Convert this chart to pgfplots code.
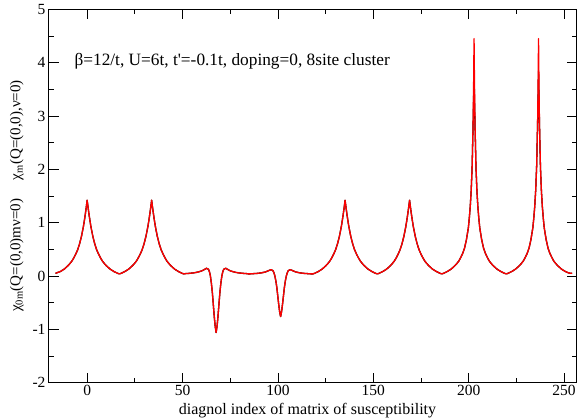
\documentclass[border=0pt]{standalone}
\usepackage{fontspec}
\setmainfont{Liberation Serif}
\usepackage{pgfplots}
\usepackage{pgfplotstable}
\pgfplotsset{compat=1.18}
\pgfplotstableread{
x b r
-16.6 0.05 0.05
-14 0.085 0.085
-12 0.13 0.13
-10 0.195 0.195
-9 0.235 0.235
-8 0.28 0.28
-7 0.34 0.34
-6 0.41 0.41
-5 0.49 0.49
-4 0.6 0.6
-3 0.74 0.74
-2 0.92 0.92
-1.5 1.03 1.03
-1 1.15 1.15
-0.5 1.28 1.28
0 1.42 1.42
0.5 1.28 1.28
1 1.15 1.15
1.5 1.03 1.03
2 0.92 0.92
3 0.74 0.74
4 0.6 0.6
5 0.49 0.49
6 0.41 0.41
7 0.34 0.34
8 0.28 0.28
9 0.235 0.235
10 0.195 0.195
12 0.13 0.13
14 0.085 0.085
16 0.05 0.05
16.9 0.04 0.04
17.8 0.05 0.05
19.8 0.085 0.085
21.8 0.13 0.13
23.8 0.195 0.195
24.8 0.235 0.235
25.8 0.28 0.28
26.8 0.34 0.34
27.8 0.41 0.41
28.8 0.49 0.49
29.8 0.6 0.6
30.8 0.74 0.74
31.8 0.92 0.92
32.3 1.03 1.03
32.8 1.15 1.15
33.3 1.28 1.28
33.8 1.42 1.42
34.3 1.28 1.28
34.8 1.15 1.15
35.3 1.03 1.03
35.8 0.92 0.92
36.8 0.74 0.74
37.8 0.6 0.6
38.8 0.49 0.49
39.8 0.41 0.41
40.8 0.34 0.34
41.8 0.28 0.28
42.8 0.235 0.235
43.8 0.195 0.195
45.8 0.13 0.13
47.8 0.085 0.085
49.8 0.05 0.05
50.7 0.04 0.04
51.6 0.045 0.045
53.6 0.05 0.05
55.6 0.058 0.058
57.6 0.07 0.07
59.6 0.09 0.09
60.6 0.105 0.105
61.6 0.125 0.125
62.6 0.145 0.145
63.6 0.125 0.125
64.1 0.08 0.08
64.6 0.0 0.0
65.1 -0.13 -0.13
65.6 -0.3 -0.3
66.1 -0.52 -0.52
66.6 -0.75 -0.75
67.1 -0.94 -0.94
67.6 -1.06 -1.06
68.1 -0.94 -0.94
68.6 -0.75 -0.75
69.1 -0.52 -0.52
69.6 -0.3 -0.3
70.1 -0.13 -0.13
70.6 0.0 0.0
71.1 0.08 0.08
71.6 0.125 0.125
72.6 0.145 0.145
73.6 0.125 0.125
74.6 0.105 0.105
75.6 0.09 0.09
77.6 0.07 0.07
79.6 0.058 0.058
81.6 0.05 0.05
83.6 0.045 0.045
84.5 0.04 0.04
85.4 0.04 0.04
87.4 0.045 0.045
89.4 0.05 0.05
91.4 0.06 0.06
93.4 0.075 0.075
94.4 0.09 0.09
95.4 0.105 0.105
96.4 0.12 0.12
97.4 0.1 0.1
97.9 0.06 0.06
98.4 0.0 0.0
98.9 -0.09 -0.09
99.4 -0.21 -0.21
99.9 -0.37 -0.37
100.4 -0.53 -0.53
100.9 -0.67 -0.67
101.4 -0.76 -0.76
101.9 -0.67 -0.67
102.4 -0.53 -0.53
102.9 -0.37 -0.37
103.4 -0.21 -0.21
103.9 -0.09 -0.09
104.4 0.0 0.0
104.9 0.06 0.06
105.4 0.1 0.1
106.4 0.12 0.12
107.4 0.105 0.105
108.4 0.09 0.09
109.4 0.075 0.075
111.4 0.06 0.06
113.4 0.05 0.05
115.4 0.045 0.045
117.4 0.04 0.04
118.3 0.04 0.04
119.2 0.05 0.05
121.2 0.085 0.085
123.2 0.13 0.13
125.2 0.195 0.195
126.2 0.235 0.235
127.2 0.28 0.28
128.2 0.34 0.34
129.2 0.41 0.41
130.2 0.49 0.49
131.2 0.6 0.6
132.2 0.74 0.74
133.2 0.92 0.92
133.7 1.03 1.03
134.2 1.15 1.15
134.7 1.28 1.28
135.2 1.42 1.42
135.7 1.28 1.28
136.2 1.15 1.15
136.7 1.03 1.03
137.2 0.92 0.92
138.2 0.74 0.74
139.2 0.6 0.6
140.2 0.49 0.49
141.2 0.41 0.41
142.2 0.34 0.34
143.2 0.28 0.28
144.2 0.235 0.235
145.2 0.195 0.195
147.2 0.13 0.13
149.2 0.085 0.085
151.2 0.05 0.05
152.1 0.04 0.04
153 0.05 0.05
155 0.085 0.085
157 0.13 0.13
159 0.195 0.195
160 0.235 0.235
161 0.28 0.28
162 0.34 0.34
163 0.41 0.41
164 0.49 0.49
165 0.6 0.6
166 0.74 0.74
167 0.92 0.92
167.5 1.03 1.03
168 1.15 1.15
168.5 1.28 1.28
169 1.42 1.42
169.5 1.28 1.28
170 1.15 1.15
170.5 1.03 1.03
171 0.92 0.92
172 0.74 0.74
173 0.6 0.6
174 0.49 0.49
175 0.41 0.41
176 0.34 0.34
177 0.28 0.28
178 0.235 0.235
179 0.195 0.195
181 0.13 0.13
183 0.085 0.085
185 0.05 0.05
185.9 0.04 0.04
186.8 0.05 0.05
188.8 0.085 0.085
190.8 0.13 0.13
192.8 0.195 0.195
193.8 0.235 0.235
194.8 0.28 0.28
195.8 0.345 0.345
196.8 0.42 0.42
197.8 0.52 0.52
198.8 0.68 0.68
199.8 0.9 0.9
200.3 1.08 1.08
200.8 1.3 1.3
201.3 1.6 1.6
201.8 2.05 2.05
202.3 2.85 2.85
202.55 3.3 3.5
202.8 3.85 4.45
203.05 3.3 3.5
203.3 2.85 2.85
203.8 2.05 2.05
204.3 1.6 1.6
204.8 1.3 1.3
205.3 1.08 1.08
205.8 0.9 0.9
206.8 0.68 0.68
207.8 0.52 0.52
208.8 0.42 0.42
209.8 0.345 0.345
210.8 0.28 0.28
211.8 0.235 0.235
212.8 0.195 0.195
214.8 0.13 0.13
216.8 0.085 0.085
218.8 0.05 0.05
219.7 0.04 0.04
220.6 0.05 0.05
222.6 0.085 0.085
224.6 0.13 0.13
226.6 0.195 0.195
227.6 0.235 0.235
228.6 0.28 0.28
229.6 0.345 0.345
230.6 0.42 0.42
231.6 0.52 0.52
232.6 0.68 0.68
233.6 0.9 0.9
234.1 1.08 1.08
234.6 1.3 1.3
235.1 1.6 1.6
235.6 2.05 2.05
236.1 2.85 2.85
236.35 3.3 3.5
236.6 3.85 4.45
236.85 3.3 3.5
237.1 2.85 2.85
237.6 2.05 2.05
238.1 1.6 1.6
238.6 1.3 1.3
239.1 1.08 1.08
239.6 0.9 0.9
240.6 0.68 0.68
241.6 0.52 0.52
242.6 0.42 0.42
243.6 0.345 0.345
244.6 0.28 0.28
245.6 0.235 0.235
246.6 0.195 0.195
248.6 0.13 0.13
250.6 0.085 0.085
252.6 0.055 0.055
254.2 0.05 0.05
}\datatab
\begin{document}
\begin{tikzpicture}
\begin{axis}[
  scale only axis,
  width=527.5pt, height=373.4pt,
  xmin=-20, xmax=256.5,
  ymin=-2, ymax=5,
  xtick={0,50,100,150,200,250},
  minor xtick={25,75,125,175,225},
  ytick={-2,-1,0,1,2,3,4,5},
  minor ytick={-1.5,-0.5,0.5,1.5,2.5,3.5,4.5},
  tick align=inside,
  major tick length=10pt,
  minor tick length=5pt,
  axis line style={line width=1pt},
  every tick/.style={black, line width=0.8pt},
  font=\fontsize{16}{18}\selectfont,
  tick label style={font=\fontsize{15.5}{17}\selectfont},
  xticklabel style={yshift=1pt},
  /pgf/number format/assume math mode=true,
  xlabel={diagnol index of matrix of susceptibility},
  xlabel style={at={(axis description cs:0.49,-0.074)}, anchor=center, font=\fontsize{16}{18}\selectfont},
  ylabel={χ\textsubscript{0m}(Q=(0,0)mν=0)\quad\ χ\textsubscript{m}(Q=(0,0),ν=0)},
  ylabel style={at={(axis description cs:-0.061,0.5)}, anchor=center, font=\fontsize{15}{17}\selectfont},
  clip=true,
]
\addplot[black, line width=1.3pt, line join=round] table[x=x, y=b] {\datatab};
\addplot[red, line width=1.3pt, line join=round] table[x=x, y=r] {\datatab};
\node[anchor=west, inner sep=0pt, font=\fontsize{17.3}{19}\selectfont] at (axis cs:-6.7,4.03) {β=12/t, U=6t, t\textquotesingle=-0.1t, doping=0, 8site cluster};
\end{axis}
\pgfresetboundingbox
\path (current axis.south west) ++(-49pt,-36.3pt) rectangle ++(579pt,419pt);
\end{tikzpicture}
\end{document}
